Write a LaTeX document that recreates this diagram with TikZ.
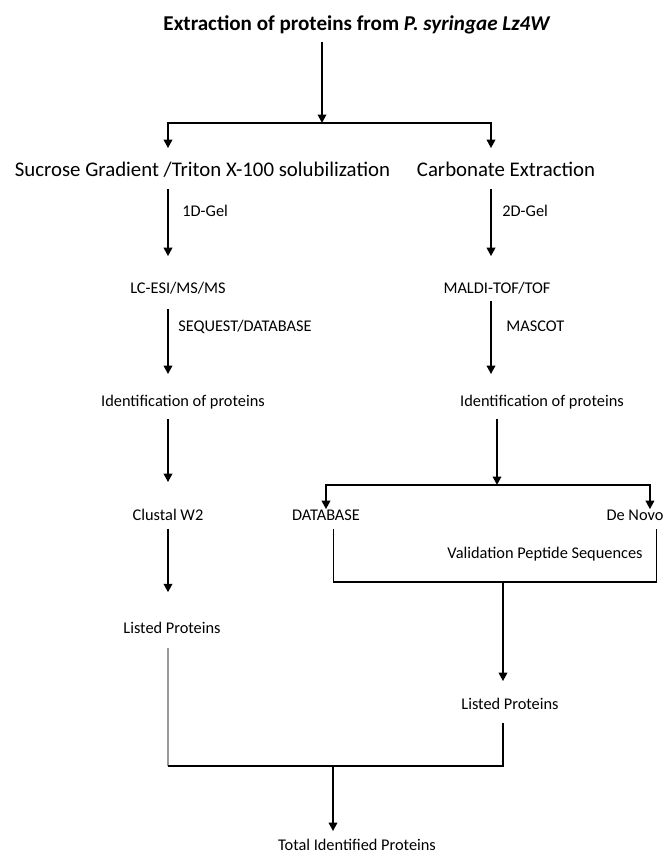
\documentclass[tikz,border=0pt]{standalone}
\usepackage{fontspec}
\setmainfont{Carlito}
\usetikzlibrary{arrows.meta}

\begin{document}
\begin{tikzpicture}[
  font=\fontsize{9.3}{11}\selectfont,
  testo/.style={inner sep=0pt, align=center, text height=0.65em, text depth=0.2em},
  ramo/.style={testo, font=\fontsize{11.85}{14}\selectfont},
  freccia/.style={draw=black, line width=1.1pt, -{Triangle[width=4.8pt,length=4.8pt]}},
  spessa/.style={draw=black!75, line width=1.1pt},
  linea/.style={draw=black, line width=0.6pt},
  lineagrigia/.style={draw=black!40, line width=0.6pt}
]
\useasboundingbox (0,0) rectangle (13.28,17.06);

% ---- titolo e diramazione ------------------------------------------
\node[testo, font=\fontsize{12}{14}\selectfont\bfseries] (titolo) at (7.14,16.52)
  {Extraction of proteins from \textit{P. syringae Lz4W}};
\coordinate (splitA) at (6.44,14.60);
\coordinate (colSx) at (3.36,14.60);
\coordinate (colDx) at (9.82,14.60);

\node[ramo] (saccarosio) at (4.05,13.60) {Sucrose Gradient /Triton X-100 solubilization};
\node[ramo] (carbonato)  at (10.12,13.60) {Carbonate Extraction};

\draw[freccia, shorten <=4pt] (titolo.south -| splitA) -- (splitA);
\draw[spessa] (colSx) -- (colDx);
\draw[freccia, shorten >=9.7pt] (splitA) -| (saccarosio.north -| colSx);
\draw[freccia, shorten >=9.7pt] (splitA) -| (carbonato.north -| colDx);

% ---- colonna sinistra ----------------------------------------------
\node[testo] (lcesi)    at (3.56,11.26) {LC-ESI/MS/MS};
\node[testo] (identSx)  at (3.66,9.00)  {Identification of proteins};
\node[testo] (clustal)  at (3.36,6.72)  {Clustal W2};
\node[testo] (elencoSx) at (3.44,4.46)  {Listed Proteins};
\node[testo, anchor=west] (gel1)    at (3.64,12.80) {1D-Gel};
\node[testo, anchor=west] (sequest) at (3.56,10.50) {SEQUEST/DATABASE};

\draw[freccia, shorten <=4.6pt, shorten >=14.8pt] (saccarosio.south -| colSx) -- (lcesi.north -| colSx);
\draw[freccia, shorten <=6.3pt, shorten >=12pt]   (lcesi.south -| colSx) -- (identSx.north -| colSx);
\draw[freccia, shorten <=4.6pt, shorten >=15.4pt] (identSx.south -| colSx) -- (clustal.north);
\draw[freccia, shorten <=2.3pt, shorten >=17pt]   (clustal.south) -- (elencoSx.north -| colSx);

% ---- colonna destra ------------------------------------------------
\node[testo] (maldi)   at (9.94,11.26) {MALDI-TOF/TOF};
\node[testo] (identDx) at (10.84,9.00) {Identification of proteins};
\node[testo, anchor=west] (gel2)   at (10.04,12.80) {2D-Gel};
\node[testo, anchor=west] (mascot) at (10.12,10.50) {MASCOT};

\draw[freccia, shorten <=4.6pt, shorten >=14.8pt] (carbonato.south -| colDx) -- (maldi.north -| colDx);
\draw[freccia, shorten <=1.7pt, shorten >=12pt]   (maldi.south -| colDx) -- (identDx.north -| colDx);

\coordinate (splitB) at (9.94,7.36);
\node[testo] (database)    at (6.52,6.72)  {DATABASE};
\node[testo] (denovo)      at (12.70,6.72) {De Novo};
\node[testo] (validazione) at (10.90,5.96) {Validation Peptide Sequences};

\draw[freccia, shorten <=4.6pt] (identDx.south -| splitB) -- (splitB);
\draw[spessa] (splitB -| database.north) -- (splitB -| 13.00,0);
\draw[freccia] (splitB) -| (database.north);
\draw[freccia] (splitB) -| ([xshift=8.5pt]denovo.north);

% ---- convalida e unione --------------------------------------------
\coordinate (joinB) at (10.06,5.42);
\node[testo] (elencoDx) at (10.20,2.94) {Listed Proteins};
\draw[linea] ([xshift=4pt, yshift=-2.3pt]database.south) |- (joinB)
  -| ([xshift=12pt, yshift=-2.3pt]denovo.south);
\draw[freccia, shorten >=9.7pt] (joinB) -- (elencoDx.north -| joinB);

\coordinate (joinC) at (6.66,1.74);
\node[testo] (totale) at (7.14,0.12) {Total Identified Proteins};
\draw[lineagrigia] ([yshift=-5.7pt]elencoSx.south -| colSx) -- (joinC -| colSx);
\draw[linea, line width=0.8pt] (joinC -| colSx) -- (joinC -| joinB)
  -- ([yshift=-5.1pt]elencoDx.south -| joinB);
\draw[freccia, shorten >=4.6pt] (joinC) -- (totale.north -| joinC);

\end{tikzpicture}
\end{document}
